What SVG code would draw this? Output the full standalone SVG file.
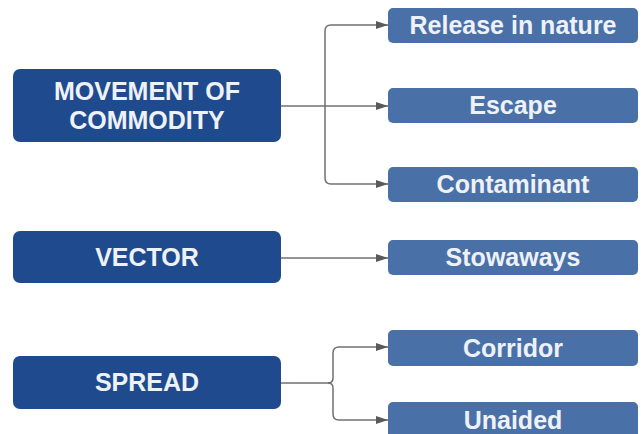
<svg xmlns="http://www.w3.org/2000/svg" width="644" height="434" viewBox="0 0 644 434">
<style>
.main{fill:#1f4b8e}
.sub{fill:#4a70a8}
.t{font-family:"Liberation Sans",Arial,sans-serif;font-weight:bold;font-size:25px;fill:#eef2f8;text-anchor:middle}
.c{fill:none;stroke:#707070;stroke-width:1.5}
</style>
<defs>
<marker id="ah" viewBox="0 0 12 8" refX="12" refY="4" markerWidth="12" markerHeight="8" markerUnits="userSpaceOnUse" orient="auto">
<path d="M0,0 L12,4 L0,8 Z" fill="#5a5a5a"/>
</marker>
</defs>
<rect width="644" height="434" fill="#ffffff"/>
<g id="connectors">
<path class="c" d="M281,106 H325"/>
<path class="c" d="M325,106 V31 Q325,25 331,25 H388" marker-end="url(#ah)"/>
<path class="c" d="M325,106 H388" marker-end="url(#ah)"/>
<path class="c" d="M325,106 V178 Q325,184 331,184 H388" marker-end="url(#ah)"/>
<path class="c" d="M281,258 H388" marker-end="url(#ah)"/>
<path class="c" d="M281,383 H328 Q333,383 333,378 V353 Q333,347 339,347 H388" marker-end="url(#ah)"/>
<path class="c" d="M328,383 Q333,383 333,388 V414 Q333,420 339,420 H388" marker-end="url(#ah)"/>
</g>
<g id="movement">
<rect class="main" x="13" y="69" width="268" height="73" rx="7"/>
<text class="t" x="147" y="100">MOVEMENT OF</text>
<text class="t" x="147" y="129">COMMODITY</text>
</g>
<g id="vector">
<rect class="main" x="13" y="231" width="268" height="52" rx="7"/>
<text class="t" x="147" y="266">VECTOR</text>
</g>
<g id="spread">
<rect class="main" x="13" y="356" width="268" height="53" rx="7"/>
<text class="t" x="147" y="391">SPREAD</text>
</g>
<g id="release">
<rect class="sub" x="388" y="8" width="250" height="35" rx="5"/>
<text class="t" x="513" y="34">Release in nature</text>
</g>
<g id="escape">
<rect class="sub" x="388" y="88" width="250" height="35" rx="5"/>
<text class="t" x="513" y="114">Escape</text>
</g>
<g id="contaminant">
<rect class="sub" x="388" y="167" width="250" height="35" rx="5"/>
<text class="t" x="513" y="193">Contaminant</text>
</g>
<g id="stowaways">
<rect class="sub" x="388" y="240" width="250" height="35" rx="5"/>
<text class="t" x="513" y="266">Stowaways</text>
</g>
<g id="corridor">
<rect class="sub" x="388" y="330" width="250" height="36" rx="5"/>
<text class="t" x="513" y="357">Corridor</text>
</g>
<g id="unaided">
<rect class="sub" x="388" y="402" width="250" height="36" rx="5"/>
<text class="t" x="513" y="429">Unaided</text>
</g>
</svg>
